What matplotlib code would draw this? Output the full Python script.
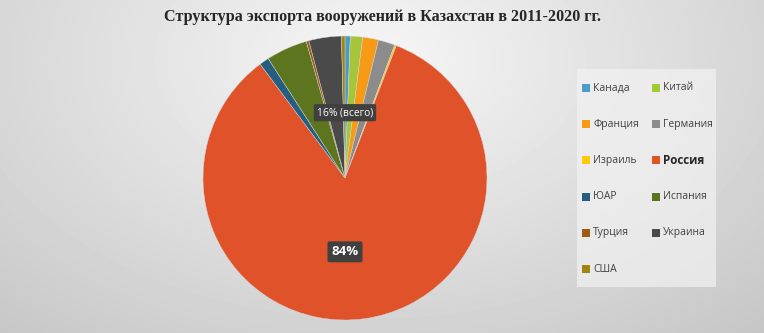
import numpy as np
import matplotlib.pyplot as plt
from matplotlib.patches import Rectangle

countries = ['Канада', 'Китай', 'Франция', 'Германия', 'Израиль', 'Россия',
             'ЮАР', 'Испания', 'Турция', 'Украина', 'США']
shares = [0.6, 1.4, 1.8, 1.9, 0.2, 84.0, 1.1, 4.7, 0.3, 3.7, 0.4]
colors = ['#4A9BC7', '#A5C63B', '#F79A16', '#8C8C8C', '#FFC90E', '#E0522A',
          '#255E7E', '#5E7520', '#9B5B12', '#4A4A4A', '#A08512']
title = 'Структура экспорта вооружений в Казахстан в 2011-2020 гг.'

fig = plt.figure(figsize=(7.64, 3.33), dpi=100)

# radial grey background
bg = fig.add_axes([0, 0, 1, 1])
yy, xx = np.mgrid[0:333, 0:764]
d = np.sqrt(((xx - 370) / 520.0) ** 2 + ((yy - 60) / 330.0) ** 2)
shade = np.clip(0.965 - 0.17 * d, 0.76, 0.97)
bg.imshow(shade, cmap='gray', vmin=0, vmax=1, aspect='auto', extent=[0, 764, 333, 0])
bg.set_xlim(0, 764)
bg.set_ylim(333, 0)
bg.axis('off')

ax = fig.add_axes([0.2657, 0.039, 284 / 764, 284 / 333])
wedges, _ = ax.pie(shares, colors=colors, startangle=90, counterclock=False,
                   radius=1, wedgeprops=dict(linewidth=0.3, edgecolor='#d9d9d9'))
ax.set_xlim(-1, 1)
ax.set_ylim(-1, 1)
ax.set_aspect('equal')
ax.axis('off')

# labels: Russia vs everyone else
rus = countries.index('Россия')
rus_share = shares[rus]
other_share = sum(shares) - rus_share
box = dict(boxstyle='round,pad=0.3,rounding_size=0.15', fc='#404040', ec='none')
ax.text(0, 0.46, f'{other_share:.0f}% (всего)', color='white', fontsize=7.4,
        family='Open Sans', ha='center', va='center', bbox=box)
ax.text(0, -0.52, f'{rus_share:.0f}%', color='white', fontsize=9.5, weight='bold',
        family='Open Sans', ha='center', va='center', bbox=box)

fig.text(0.5, 0.948, title, ha='center', va='center', fontsize=11.6,
         weight='bold', family='Liberation Serif', color='#262626')

# legend, drawn by hand on the background axes (pixel coords), row-wise
bg.add_patch(Rectangle((577, 69), 139, 218, fc='#f2f2f2', ec='none', alpha=0.7))
for i, name in enumerate(countries):
    r, c = divmod(i, 2)
    x0 = 582 + c * 70
    y0 = 88 + r * 36.2
    bg.add_patch(Rectangle((x0, y0 - 4), 8, 8, fc=colors[i], ec='none'))
    if name == 'Россия':
        bg.text(x0 + 11, y0, name, fontsize=8.4, weight='bold', family='Open Sans',
                color='#262626', va='center', ha='left')
    else:
        bg.text(x0 + 11, y0, name, fontsize=7.5, family='Open Sans',
                color='#404040', va='center', ha='left')

fig.savefig('out.png', dpi=100)
